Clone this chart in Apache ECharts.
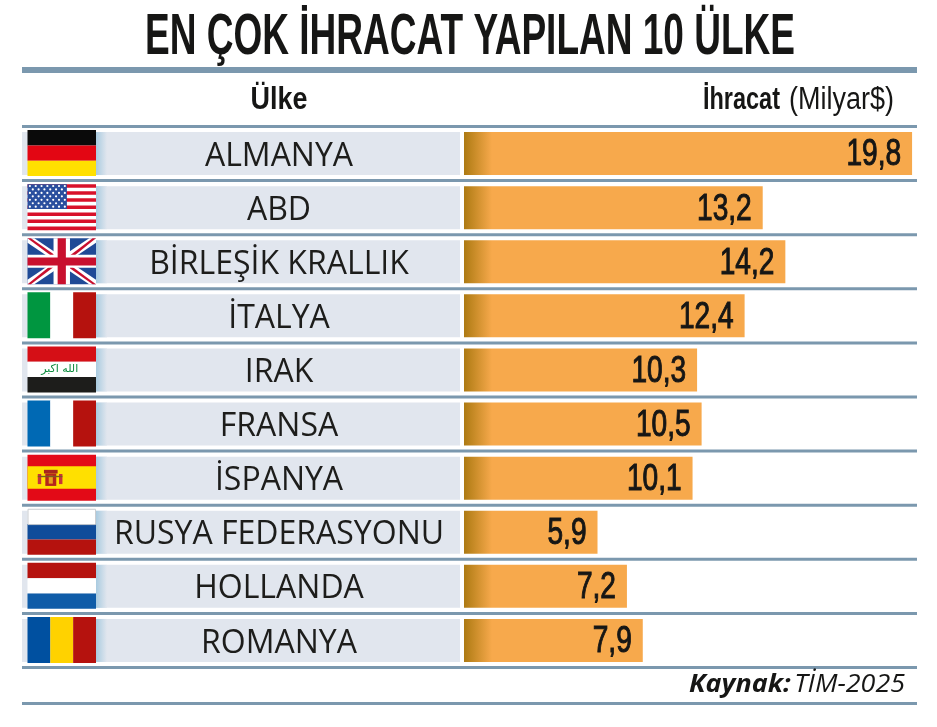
<!DOCTYPE html>
<html><head><meta charset="utf-8">
<style>html,body{margin:0;padding:0;background:#fff}#c{width:937px;height:727px}</style>
<script src="https://cdn.jsdelivr.net/npm/echarts@6/dist/echarts.min.js"></script>
</head><body><div id="c"></div>
<script>
const titleText = 'EN ÇOK İHRACAT YAPILAN 10 ÜLKE';
const categories = ['ALMANYA','ABD','BİRLEŞİK KRALLIK','İTALYA','IRAK','FRANSA','İSPANYA','RUSYA FEDERASYONU','HOLLANDA','ROMANYA'];
const values = [19.8,13.2,14.2,12.4,10.3,10.5,10.1,5.9,7.2,7.9];
const flagCodes = ['de','us','uk','it','iq','fr','es','ru','nl','ro'];
const heavy = '"Liberation Sans"';
const human = '"Open Sans"';
const rule = '#7b98ae';
const ink = '#161615';

const mctx=document.createElement('canvas').getContext('2d');
function fitX(text,font,target){ mctx.font=font; return target/mctx.measureText(text).width; }

const RED='#b5120e', BLUE='#0f4c9a';
const stripes = {
  de:{dir:'h',c:['#0a0a0a','#e30613','#ffe000']},
  it:{dir:'v',c:['#009640','#ffffff',RED]},
  fr:{dir:'v',c:['#0069b4','#ffffff',RED]},
  ro:{dir:'v',c:['#0050a0','#ffd200',RED]},
  ru:{dir:'h',c:['#ffffff',BLUE,RED]},
  nl:{dir:'h',c:[RED,'#ffffff','#0f5ca8']},
  iq:{dir:'h',c:['#d50f16','#ffffff','#1d1d1b']}
};

function flagParts(code,x,y,w,h){
  const out=[];
  const R=(a,b,c,d,f)=>out.push({type:'rect',shape:{x:x+a*w,y:y+b*h,width:c*w,height:d*h},style:{fill:f}});
  const P=(pts,f)=>out.push({type:'polygon',shape:{points:pts.map(p=>[x+p[0]*w,y+p[1]*h])},style:{fill:f}});
  if(stripes[code]){
    const s=stripes[code];
    s.c.forEach((f,i)=>{ s.dir==='h'?R(0,i/3,1,1/3,f):R(i/3,0,1/3,1,f); });
    if(code==='iq') out.push({type:'text',style:{x:x+w*0.47,y:y+h*0.5,text:'الله اكبر',fill:'#0a8a3c',fontSize:11,fontFamily:'"DejaVu Sans"',align:'center',verticalAlign:'middle'}});
    if(code==='ru') out.push({type:'rect',shape:{x:x+.5,y:y+.5,width:w-1,height:h/3},style:{fill:'none',stroke:'#c9ccd0',lineWidth:1}});
  } else if(code==='us'){
    R(0,0,1,1,'#ffffff');
    for(let i=0;i<13;i+=2) R(0,i/13,1,1/13,'#d8112a');
    R(0,0,.575,7/13,'#2a4f9e');
    for(let r=0;r<7;r++) for(let k=0;k<(r%2?6:7);k++){
      out.push({type:'circle',shape:{cx:x+w*(.035+k*.085+(r%2?.042:0)),cy:y+h*(.04+r*.075),r:1.1},style:{fill:'#ffffff'}});
    }
  } else if(code==='uk'){
    R(0,0,1,1,'#1f4a96');
    P([[0,0],[.1,0],[1,.9],[1,1],[.9,1],[0,.1]],'#ffffff');
    P([[1,0],[.9,0],[0,.9],[0,1],[.1,1],[1,.1]],'#ffffff');
    P([[0,0],[.05,0],[.45,.42],[.38,.42]],'#c8102e');
    P([[1,1],[.95,1],[.55,.58],[.62,.58]],'#c8102e');
    P([[1,0],[.95,0],[.58,.42],[.65,.42]],'#c8102e');
    P([[0,1],[.05,1],[.42,.58],[.35,.58]],'#c8102e');
    R(.38,0,.24,1,'#ffffff'); R(0,.36,1,.28,'#ffffff');
    R(.44,0,.12,1,'#c8102e'); R(0,.42,1,.17,'#c8102e');
  } else if(code==='es'){
    R(0,0,1,1,'#e30a17'); R(0,.25,1,.49,'#ffe000');
    R(.24,.33,.2,.08,'#a8261c'); R(.26,.41,.16,.27,'#b5251c'); R(.31,.46,.06,.17,'#e9a11d');
    R(.15,.42,.05,.22,'#c8343a'); R(.46,.42,.05,.22,'#c8343a');
    R(.15,.46,.36,.03,'#7a5a20');
  }
  return out;
}

function renderRow(params,api){
  const i=params.dataIndex;
  const band=api.size([0,1])[1];
  const yc=api.coord([0,i])[1];
  const yTop=yc-band/2;
  const L=22,Rt=460,bh=43,fx=27.5,fw=68.5,fh=46;
  const kids=[
    {type:'rect',shape:{x:L,y:yc-bh/2,width:Rt-L,height:bh},style:{fill:'#e1e6ee'}},
    {type:'rect',shape:{x:fx+fw,y:yc-bh/2,width:11,height:bh},style:{fill:new echarts.graphic.LinearGradient(0,0,1,0,[{offset:0,color:'#a9cbe0'},{offset:1,color:'#e1e6ee'}])}},
    {type:'rect',shape:{x:L,y:yTop-1.5,width:917-L,height:3},style:{fill:rule}}
  ].concat(flagParts(flagCodes[i],fx,yc-fh/2-.5,fw,fh));
  return {type:'group',children:kids};
}

function renderValue(params,api){
  const v=api.value(0), p=api.coord([v,api.value(1)]);
  return {type:'text',x:p[0]-11,y:p[1]+2,scaleX:.78,silent:true,style:{x:0,y:0,text:v.toFixed(1).replace('.',','),align:'right',verticalAlign:'middle',fontFamily:heavy,fontWeight:'normal',fontSize:36,fill:ink,stroke:ink,lineWidth:1}};
}

function squeezed(text,x,y,align,size,weight,target){
  const s=fitX(text,`${weight} ${size}px ${heavy}`,target);
  return {type:'text',silent:true,x:x,y:y,scaleX:s,style:{x:0,y:0,text:text,align:align,verticalAlign:'middle',fontFamily:heavy,fontWeight:weight,fontSize:size,fill:ink}};
}

const chart=echarts.init(document.getElementById('c'));
chart.setOption({
  animation:false,
  backgroundColor:'#fff',
  grid:{left:464,top:126.5,width:452.6,height:541},
  xAxis:{type:'value',min:0,max:20,show:false},
  yAxis:{type:'category',inverse:true,data:categories,z:5,axisLine:{show:false},axisTick:{show:false},
    axisLabel:{margin:185,align:'center',interval:0,formatter:'{a|{value}}',
      rich:{a:{fontFamily:human,fontSize:32,color:'#1d1d1b',padding:[6,0,0,0]}}}},
  graphic:[
    squeezed(titleText,470,38,'center',58,'bold',650),
    squeezed('Ülke',279,100,'center',31,'bold',57),
    squeezed('İhracat',780,100,'right',31,'bold',77),
    squeezed('(Milyar$)',894,100,'right',31,'normal',105),
    {type:'rect',silent:true,shape:{x:22,y:67,width:895,height:6},style:{fill:rule}},
    {type:'rect',silent:true,shape:{x:22,y:666,width:895,height:3},style:{fill:rule}},
    {type:'rect',silent:true,shape:{x:22,y:702,width:895,height:3},style:{fill:rule}},
    {type:'text',silent:true,x:905,y:684.5,scaleX:1.075,style:{x:0,y:0,align:'right',verticalAlign:'middle',text:'{b|Kaynak:} {r|TİM-2025}',rich:{
      b:{fontFamily:human,fontWeight:'bold',fontStyle:'italic',fontSize:25,fill:ink},
      r:{fontFamily:human,fontStyle:'italic',fontSize:25,fill:ink}}}}
  ],
  series:[
    {type:'custom',data:values.map((v,i)=>[0,i]),renderItem:renderRow,encode:{x:0,y:1},clip:false,silent:true,z:1},
    {type:'bar',data:values,barWidth:43,z:2,silent:true,
      itemStyle:{color:{type:'linear',x:464,y:0,x2:492,y2:0,global:true,colorStops:[{offset:0,color:'#ad7a12'},{offset:1,color:'#f7a94c'}]}}},
    {type:'custom',data:values.map((v,i)=>[v,i]),renderItem:renderValue,encode:{x:0,y:1},clip:false,silent:true,z:3}
  ]
});
</script></body></html>
